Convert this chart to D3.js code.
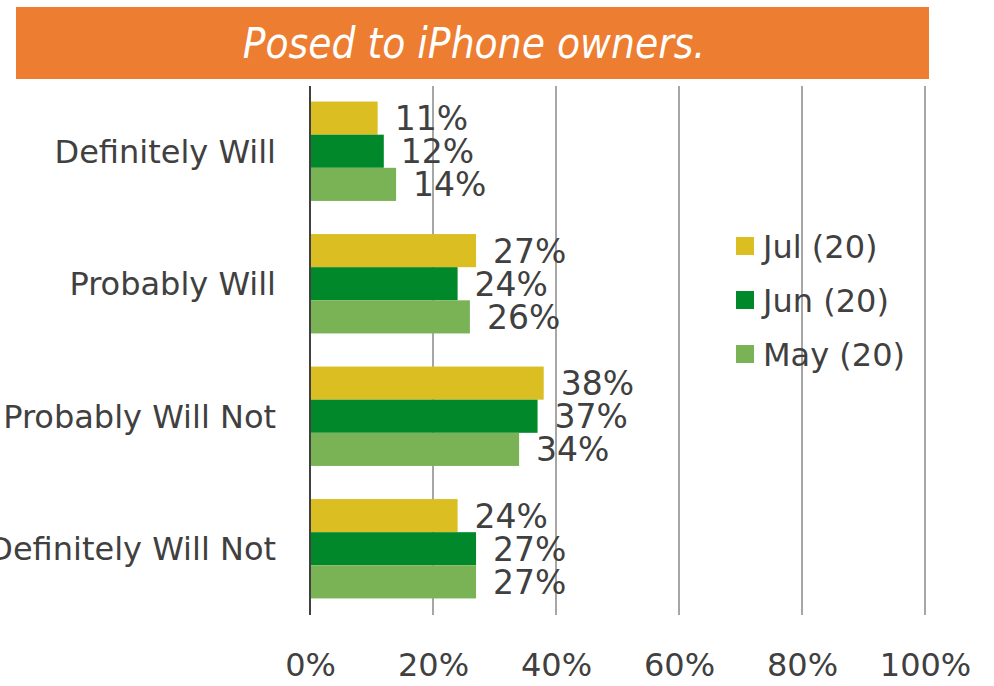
<!DOCTYPE html>
<html><head><meta charset="utf-8">
<script src="https://cdn.jsdelivr.net/npm/d3@7"></script>
<style>
html,body{margin:0;padding:0;background:#fff;}
text{font-family:"DejaVu Sans",sans-serif;}
</style></head>
<body>
<svg id="c" width="994" height="686"></svg>
<script>
const categories = ["Definitely Will","Probably Will","Probably Will Not","Definitely Will Not"];
const seriesNames = ["Jul (20)","Jun (20)","May (20)"];
const julValues = [11,27,38,24];
const junValues = [12,24,37,27];
const mayValues = [14,26,34,27];
const tickValues = [0,20,40,60,80,100];
const title = "Posed to iPhone owners.";
const colors = ["#DBBE22","#00882B","#7AB356"];

const series = [julValues, junValues, mayValues];
const svg = d3.select("#c");
const FONT = '"DejaVu Sans",sans-serif';

// banner
svg.append("rect").attr("x",16).attr("y",7).attr("width",913).attr("height",72).attr("fill","#ED7D31");
svg.append("text").attr("x",474).attr("y",58).attr("text-anchor","middle")
  .attr("fill","#fff").attr("font-size",42).attr("font-style","italic")
  .style("font-family",'"DejaVu Sans Condensed","DejaVu Sans",sans-serif').text(title);

const x = d3.scaleLinear().domain([0,100]).range([310,925]);
const y = d3.scaleBand().domain(categories).range([85,615]).paddingInner(0.25).paddingOuter(0.125);
const y1 = d3.scaleBand().domain(d3.range(3)).range([0,y.bandwidth()]);

// gridlines
svg.append("g").selectAll("line").data(tickValues.slice(1)).join("line")
  .attr("x1",d=>x(d)).attr("x2",d=>x(d)).attr("y1",86).attr("y2",615)
  .attr("stroke","#A6A6A6").attr("stroke-width",2);

// bars
const g = svg.append("g");
categories.forEach((c,ci)=>{
  series.forEach((s,si)=>{
    g.append("rect").attr("x",x(0)).attr("y",y(c)+y1(si))
      .attr("width",x(s[ci])-x(0)).attr("height",y1.bandwidth())
      .attr("fill",colors[si]);
    g.append("text").attr("x",x(s[ci])+17).attr("y",y(c)+y1(si)+y1.bandwidth()/2)
      .attr("dy","0.36em").attr("font-size",33).attr("fill","#404040").text(s[ci]+"%");
  });
});

// axis line
svg.append("line").attr("x1",x(0)).attr("x2",x(0)).attr("y1",86).attr("y2",615)
  .attr("stroke","#404040").attr("stroke-width",2);

// x axis labels
const xa = svg.append("g").attr("transform","translate(0,640)")
  .call(d3.axisBottom(x).tickValues(tickValues).tickFormat(d=>d+"%").tickSize(0).tickPadding(0));
xa.select(".domain").remove();
xa.selectAll("text").attr("font-size",32).attr("fill","#404040").attr("dy","1.13em")
  .style("font-family",FONT);

// y category labels
svg.append("g").selectAll("text").data(categories).join("text")
  .attr("x",276).attr("y",d=>y(d)+y.bandwidth()/2).attr("dy","0.36em")
  .attr("text-anchor","end").attr("font-size",32).attr("fill","#404040").text(d=>d);

// legend
const lg = svg.append("g");
seriesNames.forEach((n,i)=>{
  const cy = 246 + i*54;
  lg.append("rect").attr("x",736).attr("y",cy-9).attr("width",18).attr("height",18).attr("fill",colors[i]);
  lg.append("text").attr("x",763).attr("y",cy).attr("dy","0.36em").attr("font-size",32)
    .attr("fill","#404040").text(n);
});
</script>
</body></html>
